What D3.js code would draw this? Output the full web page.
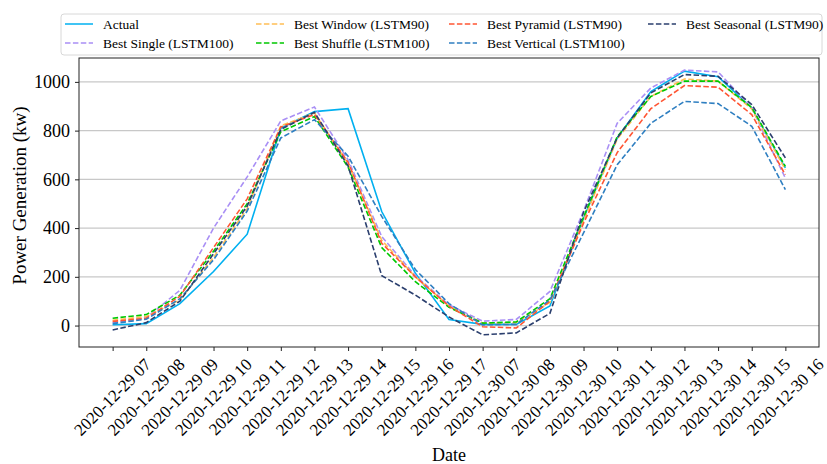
<!DOCTYPE html>
<html>
<head>
<meta charset="utf-8">
<script src="https://cdn.jsdelivr.net/npm/d3@7"></script>
<style>
  body { margin: 0; background: #fff; }
  svg text { font-family: "Liberation Serif", "Times New Roman", serif !important; fill: #000; }
</style>
</head>
<body>
<svg id="chart" width="827" height="464"></svg>
<script>
// tick labels along x
let dates = ['2020-12-29 07', '2020-12-29 08', '2020-12-29 09', '2020-12-29 10', '2020-12-29 11',
    '2020-12-29 12', '2020-12-29 13', '2020-12-29 14', '2020-12-29 15', '2020-12-29 16', '2020-12-29 17',
    '2020-12-30 07', '2020-12-30 08', '2020-12-30 09', '2020-12-30 10', '2020-12-30 11',
    '2020-12-30 12', '2020-12-30 13', '2020-12-30 14', '2020-12-30 15', '2020-12-30 16']

let yTicks = [0, 200, 400, 600, 800, 1000]

let actual   = [3, 8, 90, 222, 375, 810, 878, 890, 468, 215, 25, 5, 5, 80, 440, 770, 960, 1044, 1021, 893, 647]
let single   = [12, 32, 145, 400, 610, 840, 897, 680, 365, 205, 85, 18, 25, 140, 470, 830, 975, 1048, 1041, 893, 605]
let windowS  = [22, 37, 105, 280, 480, 820, 872, 665, 350, 200, 80, 10, 12, 95, 430, 765, 940, 1012, 1003, 889, 640]
let shuffle  = [30, 45, 125, 305, 500, 795, 858, 650, 320, 180, 75, 10, 15, 110, 445, 775, 940, 1003, 1003, 895, 653]
let pyramid  = [17, 30, 120, 320, 520, 815, 866, 670, 338, 200, 80, -5, -10, 100, 420, 710, 890, 985, 978, 866, 619]
let vertical = [8, 26, 110, 270, 470, 770, 845, 695, 448, 230, 90, 3, 5, 105, 380, 660, 830, 920, 911, 818, 558]
let seasonal = [-18, 12, 100, 295, 490, 805, 875, 655, 205, 125, 35, -38, -30, 50, 465, 770, 955, 1030, 1023, 907, 688]

let seriesNames = ['Actual', 'Best Single (LSTM100)', 'Best Window (LSTM90)', 'Best Shuffle (LSTM100)',
    'Best Pyramid (LSTM90)', 'Best Vertical (LSTM100)', 'Best Seasonal (LSTM90)']
let seriesValues = [actual, single, windowS, shuffle, pyramid, vertical, seasonal]
let seriesColors = ['#00b0f0', '#a98ff5', '#ffbe55', '#00c800', '#ff5533', '#2f7fc1', '#2b3f6e']

let serif = '"Liberation Serif", "Times New Roman", serif'

let svg = d3.select('#chart')
let margin = {top: 58, right: 8, bottom: 117, left: 79}
let width = +svg.attr('width')
let height = +svg.attr('height')

let x = d3.scaleLinear()
    .domain([-1, dates.length])
    .range([margin.left, width - margin.right])
let y = d3.scaleLinear()
    .domain([-88, 1098])
    .range([height - margin.bottom, margin.top])

// horizontal grid
svg.append('g')
    .selectAll('line')
    .data(yTicks)
    .enter()
    .append('line')
    .attr('x1', margin.left)
    .attr('x2', width - margin.right)
    .attr('y1', function (d) { return y(d) })
    .attr('y2', function (d) { return y(d) })
    .attr('stroke', '#c8c8c8')
    .attr('stroke-width', 1.2)

// lines
let line = d3.line()
    .x(function (d, i) { return x(i) })
    .y(function (d) { return y(d) })

seriesValues.forEach(function (vals, k) {
    svg.append('path')
        .datum(vals)
        .attr('fill', 'none')
        .attr('stroke', seriesColors[k])
        .attr('stroke-width', 1.6)
        .attr('stroke-dasharray', k === 0 ? null : '5.5,2.4')
        .attr('d', line)
})

// frame
svg.append('rect')
    .attr('x', margin.left)
    .attr('y', margin.top)
    .attr('width', width - margin.left - margin.right)
    .attr('height', height - margin.top - margin.bottom)
    .attr('fill', 'none')
    .attr('stroke', '#222')
    .attr('stroke-width', 1)

// Y axis
let yAxis = svg.append('g')
    .attr('transform', 'translate(' + margin.left + ',0)')
    .call(d3.axisLeft(y).tickValues(yTicks).tickFormat(d3.format('d')).tickSize(4).tickPadding(5))
yAxis.attr('font-family', serif)
yAxis.select('.domain').remove()
yAxis.selectAll('text')
    .attr('font-family', serif)
    .style('font-size', '18px')
yAxis.selectAll('line').attr('stroke', '#222')

// X axis
let xAxis = svg.append('g')
    .attr('transform', 'translate(0,' + (height - margin.bottom) + ')')
    .call(d3.axisBottom(x).tickValues(d3.range(dates.length)).tickSize(4).tickFormat(''))
xAxis.select('.domain').remove()
xAxis.selectAll('line').attr('stroke', '#222')

// rotated labels, centred under each tick like matplotlib ha=center
let xl = svg.append('g')
    .selectAll('text')
    .data(dates)
    .enter()
    .append('text')
    .text(function (d) { return d })
    .attr('font-family', serif)
    .style('font-size', '17px')
    .attr('text-anchor', 'middle')
    .attr('dominant-baseline', 'central')
xl.attr('transform', function (d, i) {
    let w = this.getComputedTextLength()
    let half = (w + 16) * Math.SQRT1_2 / 2
    return 'translate(' + x(i) + ',' + (height - margin.bottom + 9 + half) + ') rotate(-45)'
})

svg.append('text')
    .attr('x', (margin.left + width - margin.right) / 2)
    .attr('y', 461)
    .attr('text-anchor', 'middle')
    .attr('font-family', serif)
    .style('font-size', '18px')
    .text('Date')

svg.append('text')
    .attr('transform', 'translate(26,' + ((margin.top + height - margin.bottom) / 2 - 7) + ') rotate(-90)')
    .attr('text-anchor', 'middle')
    .attr('font-family', serif)
    .style('font-size', '19px')
    .text('Power Generation (kw)')

// legend, 4 columns x 2 rows, column-major like matplotlib
let legend = svg.append('g')
legend.append('rect')
    .attr('x', 61).attr('y', 14)
    .attr('width', 761).attr('height', 41)
    .attr('rx', 3)
    .attr('fill', '#fff')
    .attr('stroke', '#d8d8d8')
let colX = [65, 256, 449, 648]
let rowY = [24, 43]
seriesNames.forEach(function (name, k) {
    let cx = colX[Math.floor(k / 2)]
    let cy = rowY[k % 2]
    legend.append('line')
        .attr('x1', cx).attr('x2', cx + 28)
        .attr('y1', cy).attr('y2', cy)
        .attr('stroke', seriesColors[k])
        .attr('stroke-width', 1.5)
        .attr('stroke-dasharray', k === 0 ? null : '5.5,2.4')
    legend.append('text')
        .attr('x', cx + 38)
        .attr('y', cy + 4.5)
        .attr('font-family', serif)
        .style('font-size', '13.5px')
        .text(name)
})
</script>
</body>
</html>
